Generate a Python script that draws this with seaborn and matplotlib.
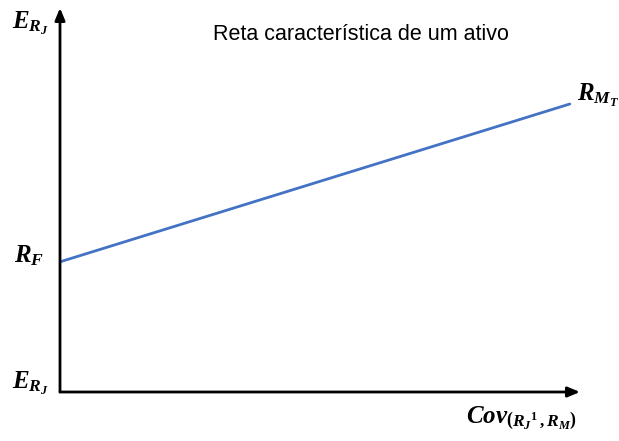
import matplotlib
matplotlib.use("Agg")
import matplotlib.pyplot as plt
import seaborn as sns
import pandas as pd

# Characteristic line of an asset: from the risk-free rate to the market point
cov_values = [0.0, 10.0]
expected_returns = [3.39, 7.5]
title_text = "Reta característica de um ativo"

sns.set_theme(style="white")
plt.rcParams["font.family"] = ["Liberation Sans", "DejaVu Sans"]
plt.rcParams["mathtext.fontset"] = "custom"
plt.rcParams["mathtext.it"] = "Liberation Serif:italic:bold"
plt.rcParams["mathtext.rm"] = "Liberation Serif:bold"
plt.rcParams["mathtext.bf"] = "Liberation Serif:bold"

fig = plt.figure(figsize=(6.19, 4.41), dpi=100)
ax = fig.add_axes([60 / 619, 49 / 441, 520 / 619, 384 / 441])

df = pd.DataFrame({"cov": cov_values, "ret": expected_returns})
sns.lineplot(data=df, x="cov", y="ret", ax=ax, color="#4472C4", linewidth=2.0)

ax.set_xlim(0, 10.2)
ax.set_ylim(0, 10)
ax.set_xticks([])
ax.set_yticks([])
ax.set_xlabel("")
ax.set_ylabel("")
for s in ax.spines.values():
    s.set_visible(False)

# Axes drawn as arrows
arrow = dict(arrowstyle="-|>,head_length=0.6,head_width=0.25", color="black",
             linewidth=2, shrinkA=0, shrinkB=0)
ax.annotate("", xy=(0, 1.0), xytext=(0, 0), xycoords="axes fraction",
            textcoords="axes fraction", arrowprops=arrow)
ax.annotate("", xy=(1.0, 0), xytext=(0, 0), xycoords="axes fraction",
            textcoords="axes fraction", arrowprops=arrow)

fig.text(361 / 619, 1 - 35 / 441, title_text, ha="center", va="center",
         fontsize=15.5, color="black")

lab = dict(ha="center", va="center", fontsize=18, color="black")
fig.text(30 / 619, 1 - 23 / 441, r"$E_{R_J}$", **lab)
fig.text(29 / 619, 1 - 256 / 441, r"$R_F$", **lab)
fig.text(30 / 619, 1 - 383 / 441, r"$E_{R_J}$", **lab)
fig.text(598 / 619, 1 - 95 / 441, r"$R_{M_T}$", **lab)
fig.text(521 / 619, 1 - 418 / 441, r"$Cov_{\left(R_{J}{}^{1}\,,R_{M}\right)}$", **lab)

fig.savefig("out.png", dpi=100, facecolor="white")
